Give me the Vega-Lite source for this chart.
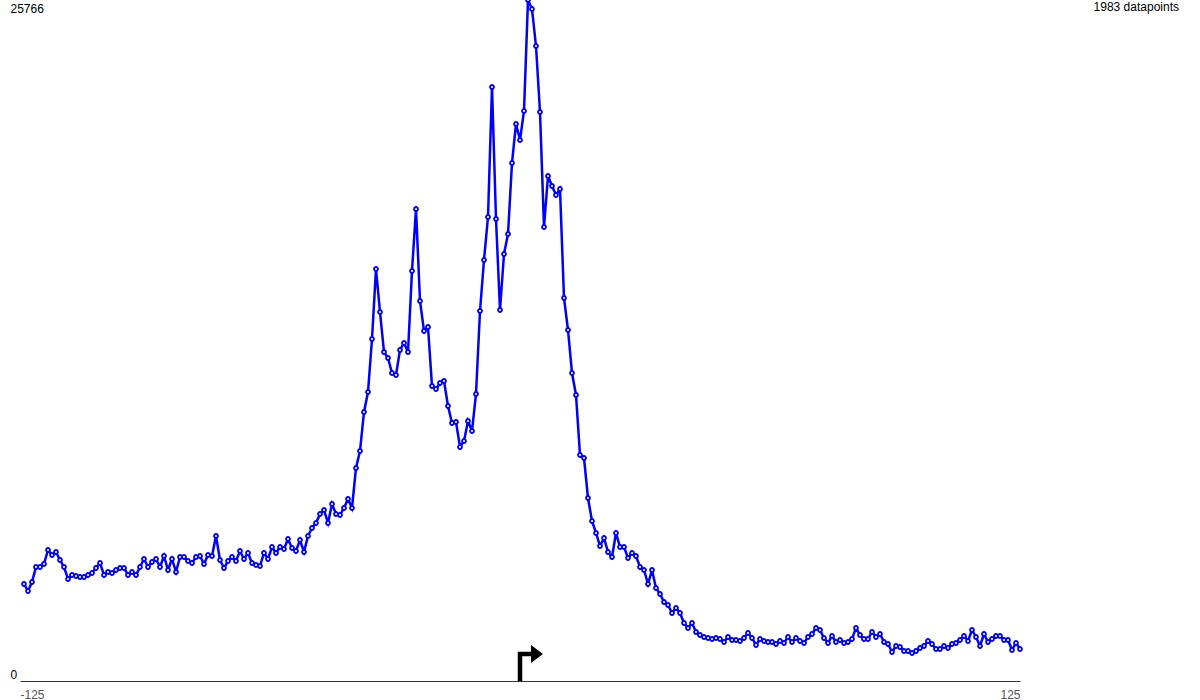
{
  "$schema": "https://vega.github.io/schema/vega-lite/v6.json",
  "width": 1000,
  "height": 681,
  "autosize": {"type": "none"},
  "padding": {"left": 20, "top": 0, "right": 180, "bottom": 19},
  "background": "white",
  "config": {"view": {"stroke": null}, "font": "Liberation Sans"},
  "title": {"text": "1983 datapoints", "anchor": "end", "frame": "group", "orient": "top", "offset": 0, "dx": 159, "dy": 29, "baseline": "alphabetic", "fontSize": 12, "fontWeight": "normal", "font": "Liberation Sans", "color": "black"},
  "datasets": {
    "counts": [
      {"x":-124,"y":3670},{"x":-123,"y":3405},{"x":-122,"y":3746},{"x":-121,"y":4313},{"x":-120,"y":4313},{"x":-119,"y":4427},{"x":-118,"y":4957},{"x":-117,"y":4767},{"x":-116,"y":4881},{"x":-115,"y":4578},
      {"x":-114,"y":4313},{"x":-113,"y":3859},{"x":-112,"y":4011},{"x":-111,"y":3973},{"x":-110,"y":3935},{"x":-109,"y":3935},{"x":-108,"y":4011},{"x":-107,"y":4086},{"x":-106,"y":4275},{"x":-105,"y":4465},
      {"x":-104,"y":4011},{"x":-103,"y":4124},{"x":-102,"y":4086},{"x":-101,"y":4200},{"x":-100,"y":4275},{"x":-99,"y":4275},{"x":-98,"y":4011},{"x":-97,"y":4124},{"x":-96,"y":4011},{"x":-95,"y":4313},
      {"x":-94,"y":4616},{"x":-93,"y":4313},{"x":-92,"y":4502},{"x":-91,"y":4616},{"x":-90,"y":4313},{"x":-89,"y":4730},{"x":-88,"y":4200},{"x":-87,"y":4616},{"x":-86,"y":4124},{"x":-85,"y":4692},
      {"x":-84,"y":4692},{"x":-83,"y":4540},{"x":-82,"y":4465},{"x":-81,"y":4692},{"x":-80,"y":4730},{"x":-79,"y":4427},{"x":-78,"y":4767},{"x":-77,"y":4730},{"x":-76,"y":5486},{"x":-75,"y":4578},
      {"x":-74,"y":4275},{"x":-73,"y":4540},{"x":-72,"y":4692},{"x":-71,"y":4540},{"x":-70,"y":4919},{"x":-69,"y":4616},{"x":-68,"y":4843},{"x":-67,"y":4465},{"x":-66,"y":4389},{"x":-65,"y":4351},
      {"x":-64,"y":4843},{"x":-63,"y":4616},{"x":-62,"y":5070},{"x":-61,"y":4843},{"x":-60,"y":5070},{"x":-59,"y":4994},{"x":-58,"y":5373},{"x":-57,"y":5032},{"x":-56,"y":4919},{"x":-55,"y":5335},
      {"x":-54,"y":4881},{"x":-53,"y":5486},{"x":-52,"y":5789},{"x":-51,"y":5978},{"x":-50,"y":6319},{"x":-49,"y":6470},{"x":-48,"y":5978},{"x":-47,"y":6697},{"x":-46,"y":6319},{"x":-45,"y":6281},
      {"x":-44,"y":6546},{"x":-43,"y":6886},{"x":-42,"y":6546},{"x":-41,"y":8059},{"x":-40,"y":8702},{"x":-39,"y":10178},{"x":-38,"y":10935},{"x":-37,"y":12940},{"x":-36,"y":15588},{"x":-35,"y":13961},
      {"x":-34,"y":12448},{"x":-33,"y":12221},{"x":-32,"y":11653},{"x":-31,"y":11578},{"x":-30,"y":12524},{"x":-29,"y":12789},{"x":-28,"y":12448},{"x":-27,"y":15513},{"x":-26,"y":17859},{"x":-25,"y":14378},
      {"x":-24,"y":13243},{"x":-23,"y":13394},{"x":-22,"y":11162},{"x":-21,"y":11048},{"x":-20,"y":11275},{"x":-19,"y":11351},{"x":-18,"y":10405},{"x":-17,"y":9762},{"x":-16,"y":9800},{"x":-15,"y":8854},
      {"x":-14,"y":9081},{"x":-13,"y":9837},{"x":-12,"y":9459},{"x":-11,"y":10859},{"x":-10,"y":13999},{"x":-9,"y":15929},{"x":-8,"y":17556},{"x":-7,"y":22475},{"x":-6,"y":17480},{"x":-5,"y":14037},
      {"x":-4,"y":16156},{"x":-3,"y":16913},{"x":-2,"y":19599},{"x":-1,"y":21075},{"x":0,"y":20469},{"x":1,"y":21567},{"x":2,"y":25766},{"x":3,"y":25426},{"x":4,"y":24026},{"x":5,"y":21529},
      {"x":6,"y":17178},{"x":7,"y":19107},{"x":8,"y":18729},{"x":9,"y":18388},{"x":10,"y":18615},{"x":11,"y":14491},{"x":12,"y":13280},{"x":13,"y":11653},{"x":14,"y":10821},{"x":15,"y":8551},
      {"x":16,"y":8437},{"x":17,"y":6924},{"x":18,"y":6054},{"x":19,"y":5600},{"x":20,"y":5108},{"x":21,"y":5411},{"x":22,"y":4881},{"x":23,"y":4692},{"x":24,"y":5600},{"x":25,"y":5070},
      {"x":26,"y":5070},{"x":27,"y":4654},{"x":28,"y":4843},{"x":29,"y":4730},{"x":30,"y":4313},{"x":31,"y":4200},{"x":32,"y":3670},{"x":33,"y":4200},{"x":34,"y":3519},{"x":35,"y":3292},
      {"x":36,"y":2989},{"x":37,"y":2876},{"x":38,"y":2573},{"x":39,"y":2762},{"x":40,"y":2573},{"x":41,"y":2194},{"x":42,"y":2005},{"x":43,"y":2194},{"x":44,"y":1854},{"x":45,"y":1740},
      {"x":46,"y":1665},{"x":47,"y":1627},{"x":48,"y":1589},{"x":49,"y":1627},{"x":50,"y":1589},{"x":51,"y":1476},{"x":52,"y":1665},{"x":53,"y":1551},{"x":54,"y":1551},{"x":55,"y":1513},
      {"x":56,"y":1627},{"x":57,"y":1816},{"x":58,"y":1627},{"x":59,"y":1362},{"x":60,"y":1589},{"x":61,"y":1513},{"x":62,"y":1476},{"x":63,"y":1476},{"x":64,"y":1400},{"x":65,"y":1513},
      {"x":66,"y":1438},{"x":67,"y":1665},{"x":68,"y":1476},{"x":69,"y":1627},{"x":70,"y":1513},{"x":71,"y":1438},{"x":72,"y":1665},{"x":73,"y":1778},{"x":74,"y":2005},{"x":75,"y":1930},
      {"x":76,"y":1627},{"x":77,"y":1438},{"x":78,"y":1703},{"x":79,"y":1476},{"x":80,"y":1551},{"x":81,"y":1438},{"x":82,"y":1476},{"x":83,"y":1589},{"x":84,"y":2005},{"x":85,"y":1740},
      {"x":86,"y":1589},{"x":87,"y":1589},{"x":88,"y":1854},{"x":89,"y":1665},{"x":90,"y":1778},{"x":91,"y":1476},{"x":92,"y":1400},{"x":93,"y":1097},{"x":94,"y":1324},{"x":95,"y":1286},
      {"x":96,"y":1135},{"x":97,"y":1135},{"x":98,"y":1059},{"x":99,"y":1135},{"x":100,"y":1249},{"x":101,"y":1324},{"x":102,"y":1513},{"x":103,"y":1400},{"x":104,"y":1211},{"x":105,"y":1211},
      {"x":106,"y":1324},{"x":107,"y":1249},{"x":108,"y":1400},{"x":109,"y":1438},{"x":110,"y":1551},{"x":111,"y":1703},{"x":112,"y":1513},{"x":113,"y":1930},{"x":114,"y":1665},{"x":115,"y":1324},
      {"x":116,"y":1778},{"x":117,"y":1476},{"x":118,"y":1589},{"x":119,"y":1703},{"x":120,"y":1703},{"x":121,"y":1551},{"x":122,"y":1551},{"x":123,"y":1173},{"x":124,"y":1438},{"x":125,"y":1211}
    ],
    "arrow": [
      {"x": 0, "y": 0, "k": 0},
      {"x": 0, "y": 1022, "k": 1},
      {"x": 2.75, "y": 1022, "k": 2}
    ],
    "head": [
      {"x": 4.25, "y": 1022}
    ]
  },
  "encoding": {
    "x": {
      "field": "x", "type": "quantitative",
      "scale": {"domain": [-125, 125], "nice": false, "zero": false},
      "axis": {"values": [-125, 125], "title": null, "ticks": false, "grid": false, "domainColor": "#333333", "domainWidth": 1, "labelPadding": 8, "labelFontSize": 12, "labelFont": "Liberation Sans", "labelColor": "#555555", "labelFlush": true, "labelExpr": "'' + datum.value"}
    },
    "y": {
      "field": "y", "type": "quantitative",
      "scale": {"domain": [0, 25766], "nice": false, "zero": true},
      "axis": {"values": [0, 25766], "title": null, "ticks": false, "grid": false, "domain": false, "labelAlign": "left", "labelPadding": 10, "labelFontSize": 12, "labelFont": "Liberation Sans", "labelColor": "black", "labelExpr": "'' + datum.value",
        "labelBaseline": {"condition": {"test": "datum.value == 0", "value": "bottom"}, "value": "top"},
        "labelOffset": {"condition": {"test": "datum.value == 0", "value": 0}, "value": 3}}
    }
  },
  "layer": [
    {"data": {"name": "counts"}, "mark": {"type": "line", "color": "#0000ff", "strokeWidth": 2.5}},
    {"data": {"name": "counts"}, "mark": {"type": "point", "shape": "circle", "filled": true, "fill": "white", "stroke": "#0000ff", "strokeWidth": 1.8, "size": 16, "opacity": 1}},
    {"data": {"name": "arrow"}, "mark": {"type": "line", "color": "black", "strokeWidth": 4.5, "strokeJoin": "miter", "strokeCap": "butt"}, "encoding": {"order": {"field": "k", "type": "quantitative"}}},
    {"data": {"name": "head"}, "mark": {"type": "point", "shape": "M-0.67,-1L0.67,0L-0.67,1Z", "filled": true, "color": "black", "size": 324, "opacity": 1, "strokeWidth": 0}}
  ]
}
